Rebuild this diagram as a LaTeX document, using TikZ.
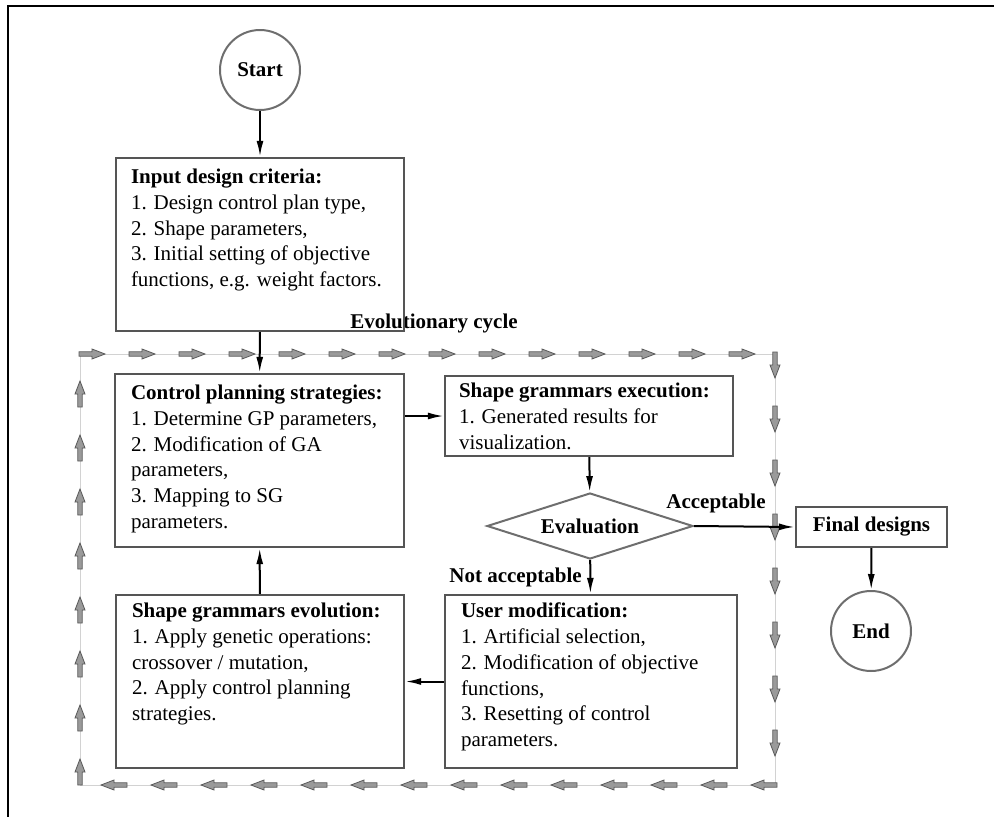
\documentclass[tikz,border=0pt]{standalone}
\usepackage{fontspec}
\setmainfont{Liberation Serif}
\usetikzlibrary{arrows.meta,shapes.geometric}
\definecolor{boxgray}{HTML}{555555}
\definecolor{circgray}{HTML}{6E6E6E}
\definecolor{cyclefill}{HTML}{9A9A9A}
\definecolor{cycleline}{HTML}{D2D2D2}

\begin{document}
\begin{tikzpicture}[x=1pt,y=-1pt,
  txt/.style={font=\fontsize{21}{25.8}\selectfont, align=left, anchor=north west, inner sep=0pt},
  lbl/.style={font=\fontsize{21}{24}\selectfont\bfseries, inner sep=0pt},
  stepbox/.style={draw=boxgray, line width=2.4pt, rectangle, inner sep=0pt},
  terminal/.style={draw=circgray, line width=2pt, circle, minimum size=80pt, inner sep=0pt,
    font=\fontsize{21}{24}\selectfont\bfseries},
  decision/.style={draw=circgray, line width=2pt, diamond, aspect=3.1, inner sep=0pt,
    minimum width=206pt, minimum height=66pt, font=\fontsize{21}{24}\selectfont\bfseries},
  flow/.style={draw=black, line width=2pt, -{Latex[length=16pt,width=7pt]}},
  cycline/.style={draw=cycleline, line width=0.9pt},
  pics/cyc/.style={code={
    \draw[fill=cyclefill, draw=black!65, line width=0.8pt]
      (-13,-2.2) -- (0,-2.2) -- (0,-5) -- (13,0) -- (0,5) -- (0,2.2) -- (-13,2.2) -- cycle;}},
]
\useasboundingbox (0,0) rectangle (994,817);

% outer frame
\draw[line width=2pt] (8,817) -- (8,6) -- (994,6);

% evolutionary cycle loop
\draw[cycline] (80,354) rectangle (775,785);
\foreach \k in {0,...,13} \pic at ({92+50*\k},354) {cyc};
\foreach \k in {0,...,7} \pic[rotate=-90] at (775,{365+54*\k}) {cyc};
\foreach \k in {0,...,13} \pic[rotate=180] at ({764-50*\k},785) {cyc};
\foreach \k in {0,...,7} \pic[rotate=90] at (80,{394+54*\k}) {cyc};
\node[lbl] (cyclbl) at (434,323) {Evolutionary cycle};

% terminals
\node[terminal] (start) at (260,70) {Start};
\node[terminal] (end) at (871,631) {End};

% process boxes
\node[stepbox, minimum width=288pt, minimum height=173pt] (input) at (260,244.5) {};
\node[stepbox, minimum width=289pt, minimum height=173pt] (ctrl) at (259.5,460.5) {};
\node[stepbox, minimum width=288pt, minimum height=80pt] (exec) at (589,416) {};
\node[stepbox, minimum width=288pt, minimum height=173pt] (evo) at (260,681.5) {};
\node[stepbox, minimum width=292pt, minimum height=173pt] (user) at (591,681.5) {};
\node[stepbox, minimum width=151pt, minimum height=40pt,
  font=\fontsize{21}{24}\selectfont\bfseries] (final) at (871.5,527) {Final designs};
\node[decision] (eval) at (590,526) {Evaluation};

% box texts
\node[txt] (inputtxt) at ([shift={(16,12)}]input.north west)
  {\textbf{Input design criteria:}\\1. Design control plan type,\\2. Shape parameters,\\
   3. Initial setting of objective\\functions, e.g. weight factors.};
\node[txt] (ctrltxt) at ([shift={(17,12)}]ctrl.north west)
  {\textbf{Control planning strategies:}\\1. Determine GP parameters,\\2. Modification of GA\\
   parameters,\\3. Mapping to SG\\parameters.};
\node[txt] (exectxt) at ([shift={(15,8)}]exec.north west)
  {\textbf{Shape grammars execution:}\\1. Generated results for\\visualization.};
\node[txt] (evotxt) at ([shift={(17,9)}]evo.north west)
  {\textbf{Shape grammars evolution:}\\1. Apply genetic operations:\\crossover / mutation,\\
   2. Apply control planning\\strategies.};
\node[txt] (usertxt) at ([shift={(17,9)}]user.north west)
  {\textbf{User modification:}\\1. Artificial selection,\\2. Modification of objective\\
   functions,\\3. Resetting of control\\parameters.};

% branch labels
\node[lbl, anchor=east] (notacc) at (582,577) {Not acceptable};
\node[lbl] (acc) at (716,503) {Acceptable};

% connectors
\draw[flow] (start) -- (input);
\draw[flow] (input) -- (ctrl);
\draw[flow] (ctrl.east |- exec.west) -- (exec.west);
\draw[flow] (exec) -- (eval);
\draw[flow] (eval) -- (user);
\draw[flow] (user) -- (evo);
\draw[flow] (evo) -- (ctrl);
\draw[flow] (eval.east) -- (final.west);
\draw[flow] (final) -- (end);
\end{tikzpicture}
\end{document}
